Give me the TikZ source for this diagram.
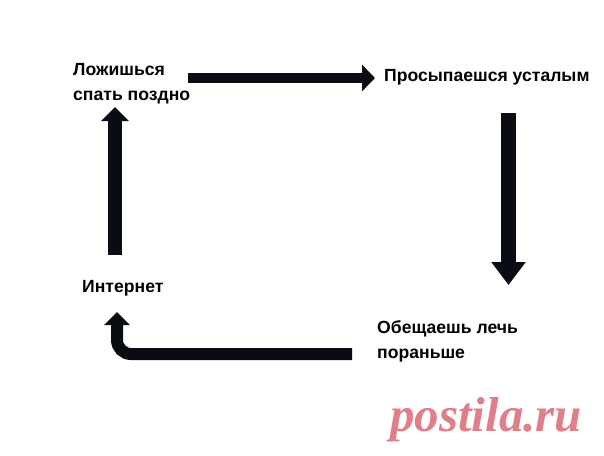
\documentclass[tikz,border=0pt]{standalone}
\usepackage{fontspec}
\setmainfont{Liberation Sans}
\newfontfamily\wmfont{Liberation Serif}
\usetikzlibrary{arrows.meta}
\definecolor{arrowcol}{HTML}{0A0C14}
\definecolor{wmpink}{HTML}{E07E89}
\begin{document}
\begin{tikzpicture}[x=1pt,y=-1pt,
  label/.style={anchor=west,inner sep=0pt,align=left,font=\fontsize{17.6}{25}\selectfont\bfseries,text=black},
  blockarrow/.style={draw=arrowcol,line cap=butt}]
\fill[white] (0,0) rectangle (604,455);
\useasboundingbox (0,0) rectangle (604,455);
% labels
\node[label] (late) at (73,84) {Ложишься\\спать поздно};
\node[label] (tired) at (384,77) {Просыпаешся усталым};
\node[label] (net) at (82,288) {Интернет};
\node[label] (promise) at (377,341) {Обещаешь лечь\\пораньше};
% arrow end points
\coordinate (a1s) at (188,78);
\coordinate (a1e) at (375,78);
\coordinate (a2s) at (508.5,113);
\coordinate (a2e) at (508.5,285);
\coordinate (a3s) at (352,354);
\coordinate (a3c) at (117,354);
\coordinate (a3e) at (117,312);
\coordinate (a4s) at (115,255);
\coordinate (a4e) at (115,107);
% arrows
\draw[blockarrow,line width=10pt,-{Triangle[width=26pt,length=13pt]}] (a1s) -- (a1e);
\draw[blockarrow,line width=15pt,-{Triangle[width=33pt,length=23pt]}] (a2s) -- (a2e);
\draw[blockarrow,line width=12pt,rounded corners=14pt,-{Triangle[width=25pt,length=13pt]}] (a3s) -- (a3c) -- (a3e);
\draw[blockarrow,line width=14pt,-{Triangle[width=27pt,length=14pt]}] (a4s) -- (a4e);
% watermark
\node[anchor=west,inner sep=0pt,text=wmpink,font=\wmfont\fontsize{49}{49}\selectfont\bfseries\itshape] (wm) at (390,420) {postila.ru};
\end{tikzpicture}
\end{document}
